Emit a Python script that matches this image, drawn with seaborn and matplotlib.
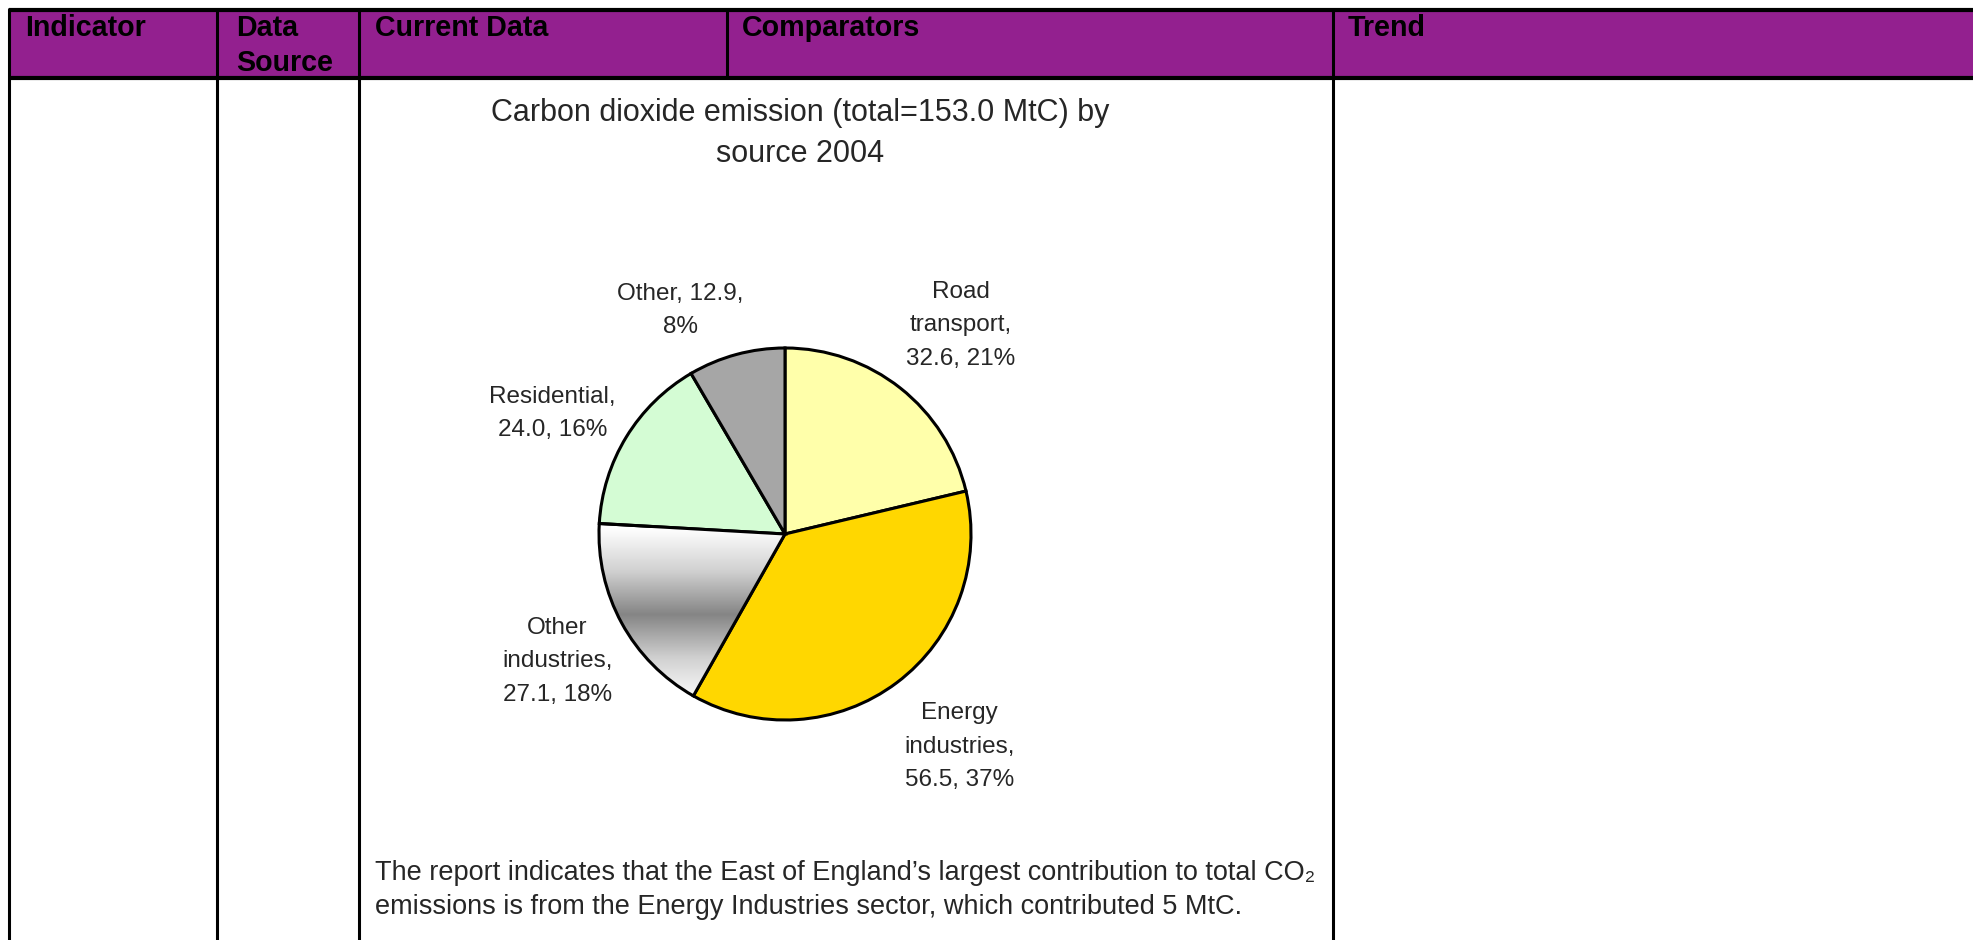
import numpy as np
import matplotlib
matplotlib.use('Agg')
import matplotlib.pyplot as plt
import seaborn as sns
from matplotlib.patches import Rectangle
from matplotlib.colors import LinearSegmentedColormap

sns.set_theme(style='white')
plt.rcParams['font.family'] = ['Liberation Sans', 'DejaVu Sans']

# ---------------- data ----------------
header_labels = ['Indicator', 'Data\nSource', 'Current Data', 'Comparators', 'Trend']
sectors = ['Road transport', 'Energy industries', 'Other industries', 'Residential', 'Other']
emissions = [32.6, 56.5, 27.1, 24.0, 12.9]
percents = [21, 37, 18, 16, 8]
label_texts = ['Road\ntransport,\n32.6, 21%',
               'Energy\nindustries,\n56.5, 37%',
               'Other\nindustries,\n27.1, 18%',
               'Residential,\n24.0, 16%',
               'Other, 12.9,\n8%']
slice_colors = ['#FFFFAA', '#FFD700', 'none', '#D4FCD4', '#A6A6A6']
chart_title = 'Carbon dioxide emission (total=153.0 MtC) by\nsource 2004'
note_text = ('The report indicates that the East of England\u2019s largest contribution to total CO\u2082\n'
             'emissions is from the Energy Industries sector, which contributed 5 MtC.')

# ---------------- figure ----------------
W, H = 1973, 940
fig = plt.figure(figsize=(W / 100, H / 100), dpi=100)
fig.patch.set_facecolor('white')

bg = fig.add_axes([0, 0, 1, 1])
bg.set_xlim(0, W)
bg.set_ylim(H, 0)
bg.axis('off')

# header band
bg.add_patch(Rectangle((9, 10), W, 68, facecolor='#93208F', edgecolor='none', zorder=1))
lw_h = 3
bg.plot([9, W], [10, 10], color='black', lw=lw_h, solid_capstyle='butt', zorder=3)
bg.plot([9, W], [78, 78], color='black', lw=lw_h, solid_capstyle='butt', zorder=3)
for x in [9, 217, 359, 1333]:
    bg.plot([x, x], [9, H], color='black', lw=2.2, zorder=3)
bg.plot([727, 727], [10, 78], color='black', lw=2.2, zorder=3)

header_x = [25, 236, 375, 742, 1348]
for x, lab in zip(header_x, header_labels):
    bg.text(x, 14, lab, fontsize=20.6, fontweight='bold', color='black',
            ha='left', va='top', linespacing=1.33, zorder=4)

# title
bg.text(800, 98, chart_title, fontsize=22, ha='center', va='top',
        linespacing=1.48, zorder=4)

# note
bg.text(375, 860, note_text, fontsize=19.5, ha='left', va='top',
        linespacing=1.4, zorder=4)

# ---------------- pie ----------------
cx, cy, R = 785, 534, 186
ax = fig.add_axes([(cx - R) / W, (H - cy - R) / H, 2 * R / W, 2 * R / H])
ax.set_xlim(-1, 1)
ax.set_ylim(-1, 1)
ax.axis('off')

wedges, texts = ax.pie(emissions, labels=label_texts, colors=slice_colors,
                       startangle=90, counterclock=False, radius=1.0,
                       labeldistance=1.43,
                       wedgeprops=dict(edgecolor='black', linewidth=2.2),
                       textprops=dict(fontsize=17.5))
for t in texts:
    t.set_ha('center')
    t.set_va('center')
    t.set_linespacing(1.66)

# small placement nudges (Excel moves crowded labels)
nudges = {4: (-0.19, -0.177), 3: (-0.03, -0.1), 2: (0.03, 0.0), 1: (0.08, 0.0), 0: (0.06, 0.0)}
for i, (dx, dy) in nudges.items():
    x0, y0 = texts[i].get_position()
    texts[i].set_position((x0 + dx, y0 + dy))

# gradient fill for "Other industries"
w = wedges[2]
w.set_facecolor('none')
w.set_zorder(3)
grad = LinearSegmentedColormap.from_list('g', ['#FFFFFF', '#D0D0D0', '#858585', '#D0D0D0', '#FFFFFF'])
yy = np.linspace(0, 1, 256).reshape(-1, 1)
img = ax.imshow(yy, cmap=grad, extent=[-1, 0.05, -0.9, 0.03], origin='upper',
                aspect='auto', zorder=2, interpolation='bicubic')
img.set_clip_path(w)
ax.set_xlim(-1, 1)
ax.set_ylim(-1, 1)

fig.savefig('out.png', dpi=100, facecolor='white')
